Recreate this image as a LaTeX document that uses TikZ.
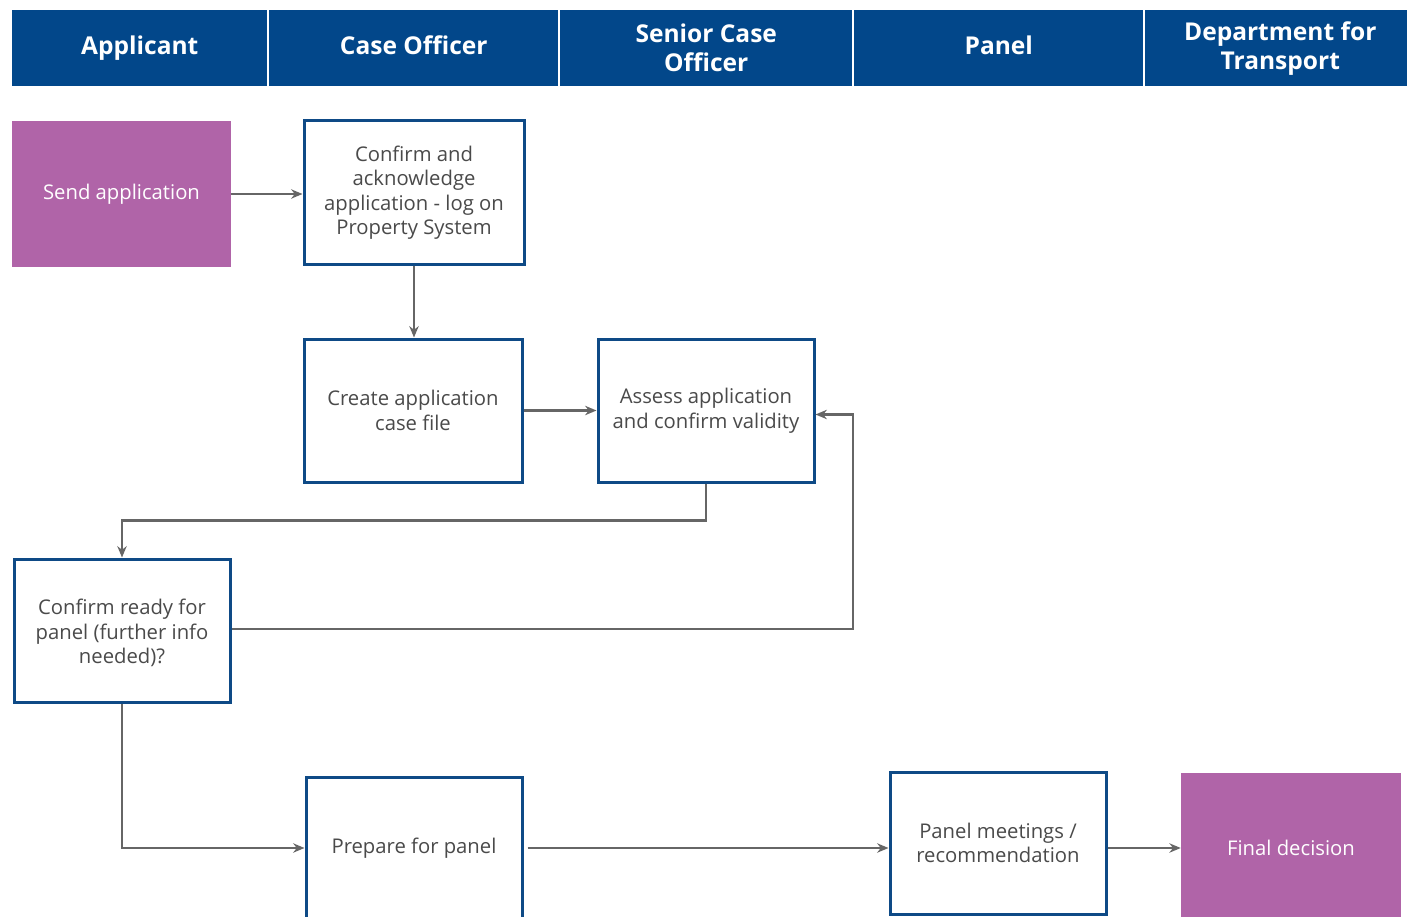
\documentclass[tikz,border=0pt]{standalone}
\usepackage{fontspec}
\setmainfont{Open Sans}
\usetikzlibrary{arrows.meta}
\definecolor{hdrblue}{HTML}{02478A}
\definecolor{boxblue}{HTML}{0E4A86}
\definecolor{purp}{HTML}{B064A8}
\definecolor{txtgray}{HTML}{4A4A4A}
\definecolor{arrgray}{HTML}{666666}
\tikzset{
  hdr/.style={fill=hdrblue, text=white, font=\fontsize{18.4}{21.75}\selectfont\bfseries, align=center, inner sep=0pt, anchor=north west, minimum height=57pt},
  hdrone/.style={hdr, text height=13.5pt, text depth=4pt},
  wbox/.style={draw=boxblue, line width=2.25pt, fill=white, text=txtgray, font=\fontsize{15.2}{18.4}\selectfont, align=center, minimum width=162pt, minimum height=107.25pt, inner sep=0pt},
  pbox/.style={fill=purp, text=white, font=\fontsize{15.2}{18.4}\selectfont, align=center, minimum width=164.25pt, minimum height=109.5pt, inner sep=0pt},
  arr/.style={draw=arrgray, line width=1.6pt, -{Stealth[length=8.5pt,width=7pt]}},
}
\begin{document}
\begin{tikzpicture}[x=0.75pt,y=-0.75pt]
\clip (0,0) rectangle (1407,917);
\fill[white] (0,0) rectangle (1407,917);
% header
\node[hdrone, minimum width=191.25pt] (h1) at (12,10) {Applicant};
\node[hdrone, minimum width=216.75pt] (h2) at (269,10) {Case Officer};
\node[hdr, minimum width=219pt] (h3) at (560,10) {Senior Case\\Officer};
\node[hdrone, minimum width=216.75pt] (h4) at (854,10) {Panel};
\node[hdr, minimum width=202.5pt] (h5) at (1145,10) {Department for\\Transport};
% boxes
\node[pbox] (send) at (121.5,194) {Send application};
\node[wbox, minimum width=165pt] (ack) at (414,192.5) {Confirm and\\acknowledge\\application - log on\\Property System};
\node[wbox, minimum width=163.5pt] (create) at (413,410.5) {Create application\\case file};
\node[wbox] (assess) at (706,410.5) {Assess application\\and confirm validity};
\node[wbox] (ready) at (122,630.5) {\vphantom{A}\\[-14pt]Confirm ready for\\panel (further info\\needed)?};
\node[wbox, minimum height=106.5pt] (prep) at (414,848) {Prepare for panel};
\node[wbox, minimum height=106.5pt] (panel) at (998,843) {Panel meetings /\\recommendation};
\node[pbox, minimum width=165pt, minimum height=112.5pt] (final) at (1291,848) {Final decision};
\coordinate (fb) at (853,629);
% connectors
\draw[arr] (send.east) -- (send.east -| ack.west);
\draw[arr] (ack.south) -- (ack.south |- create.north);
\draw[arr] (create.east) -- (create.east -| assess.west);
\draw[arr] (assess.south) -- ++(0,37) -| (ready.north);
\draw[arr] (ready.east |- fb) -- (fb) |- ([yshift=-3pt]assess.east);
\draw[arr] (ready.south) |- (prep.west);
\draw[arr, shorten <=3pt] (prep.east) -- (prep.east -| panel.west);
\draw[arr] (final.west -| panel.east) -- (final.west);
\end{tikzpicture}
\end{document}
